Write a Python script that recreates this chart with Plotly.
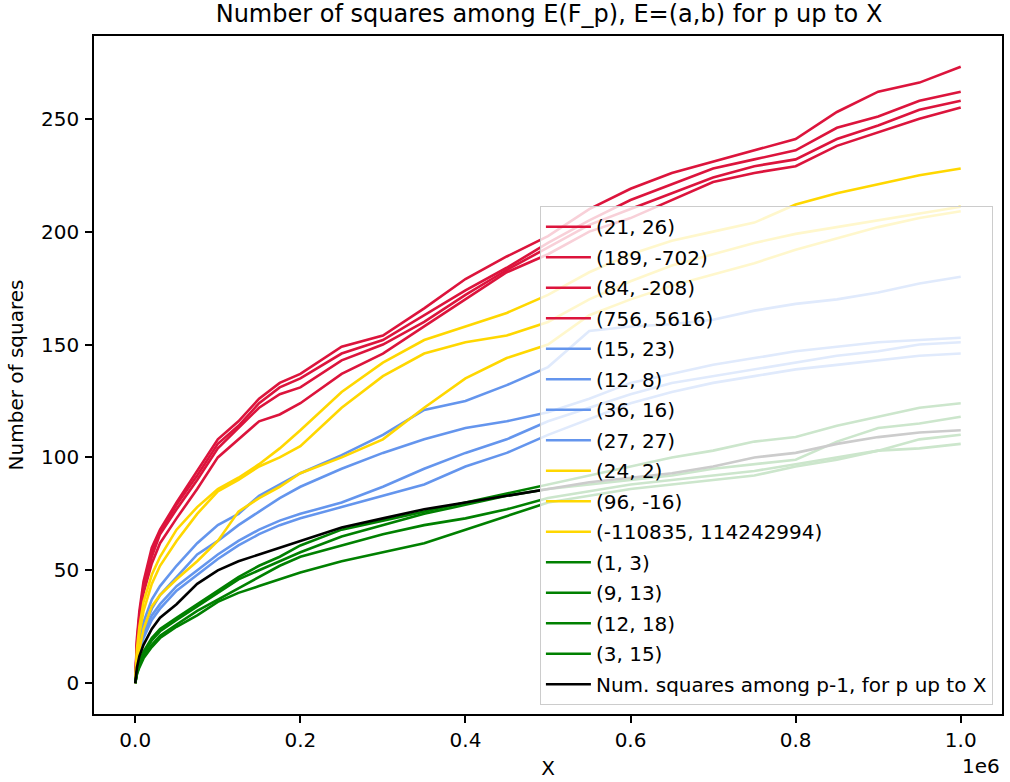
import plotly.graph_objects as go

# x positions (p up to X), in absolute units
X_POINTS = [0, 2000, 5000, 10000, 20000, 30000, 50000, 75000, 100000, 125000, 150000,
            175000, 200000, 250000, 300000, 350000, 400000, 450000, 500000, 550000,
            600000, 650000, 700000, 750000, 800000, 850000, 900000, 950000, 1000000]

LABELS = ["(21, 26)", "(189, -702)", "(84, -208)", "(756, 5616)",
          "(15, 23)", "(12, 8)", "(36, 16)", "(27, 27)",
          "(24, 2)", "(96, -16)", "(-110835, 114242994)",
          "(1, 3)", "(9, 13)", "(12, 18)", "(3, 15)",
          "Num. squares among p-1, for p up to X"]

# red curves
R1 = [0, 20, 32, 45, 60, 68, 80, 94, 108, 116, 126, 133, 137, 149, 154, 166, 179, 189, 198, 210, 219, 226, 231, 236, 241, 253, 262, 266, 273]
R2 = [0, 18, 30, 43, 58, 67, 79, 92, 106, 114, 124, 131, 135, 146, 152, 163, 174, 184, 195, 205, 214, 221, 228, 232, 236, 246, 251, 258, 262]
R3 = [0, 17, 29, 42, 56, 66, 77, 90, 104, 113, 122, 128, 131, 143, 150, 160, 172, 183, 193, 203, 210, 217, 224, 229, 232, 241, 247, 254, 258]
R4 = [0, 16, 27, 40, 53, 62, 73, 86, 100, 108, 116, 119, 124, 137, 146, 158, 170, 182, 190, 200, 206, 214, 222, 226, 229, 238, 244, 250, 255]
# blue curves
B1 = [0, 10, 18, 27, 37, 43, 52, 62, 70, 75, 83, 88, 93, 101, 110, 121, 125, 132, 140, 156, 158, 159, 161, 165, 168, 170, 173, 177, 180]
B2 = [0, 9, 16, 24, 33, 39, 47, 57, 63, 70, 76, 82, 87, 95, 102, 108, 113, 116, 120, 126, 133, 137, 141, 144, 147, 149, 151, 152, 153]
B3 = [0, 8, 14, 22, 30, 35, 43, 50, 57, 63, 68, 72, 75, 80, 87, 95, 102, 108, 116, 122, 128, 133, 136, 139, 142, 145, 147, 150, 151]
B4 = [0, 7, 13, 20, 28, 33, 41, 48, 55, 61, 66, 70, 73, 78, 83, 88, 96, 102, 110, 117, 124, 129, 133, 136, 139, 141, 143, 145, 146]
# yellow curves
Y1 = [0, 15, 25, 36, 48, 56, 68, 78, 86, 91, 97, 104, 112, 129, 142, 152, 158, 164, 172, 182, 190, 196, 200, 204, 212, 217, 221, 225, 228]
Y2 = [0, 12, 22, 32, 44, 52, 63, 75, 85, 90, 96, 100, 105, 122, 136, 146, 151, 154, 160, 170, 178, 185, 190, 195, 199, 202, 205, 208, 211]
Y3 = [0, 8, 15, 24, 34, 39, 46, 54, 63, 76, 82, 87, 93, 100, 108, 122, 135, 144, 150, 163, 170, 176, 181, 186, 192, 197, 202, 206, 209]
# green curves
G1 = [0, 5, 10, 14, 20, 24, 29, 35, 41, 47, 52, 56, 61, 68, 72, 76, 80, 84, 88, 92, 96, 100, 103, 107, 109, 114, 118, 122, 124]
G2 = [0, 5, 9, 13, 19, 23, 28, 34, 40, 46, 50, 54, 58, 65, 70, 75, 79, 83, 86, 88, 90, 92, 95, 97, 99, 107, 113, 115, 118]
G3 = [0, 4, 8, 12, 17, 21, 26, 32, 37, 42, 47, 52, 56, 61, 66, 70, 73, 77, 82, 85, 88, 90, 92, 94, 97, 100, 103, 108, 110]
G4 = [0, 4, 7, 11, 16, 20, 25, 30, 36, 40, 43, 46, 49, 54, 58, 62, 68, 74, 80, 83, 86, 88, 90, 92, 96, 99, 103, 104, 106]
# black reference curve
K = [0, 7, 12, 17, 24, 29, 35, 44, 50, 54, 57, 60, 63, 69, 73, 77, 80, 83, 86, 89, 91, 93, 96, 100, 102, 106, 109, 111, 112]

SERIES = [R1, R2, R3, R4, B1, B2, B3, B4, Y1, Y2, Y3, G1, G2, G3, G4, K]
COLORS = ["#DC143C"] * 4 + ["#6495ED"] * 4 + ["#FFD700"] * 3 + ["#008000"] * 4 + ["#000000"]

X_TICKS = [0, 200000, 400000, 600000, 800000, 1000000]
X_TICKTEXT = ["0.0", "0.2", "0.4", "0.6", "0.8", "1.0"]
Y_TICKS = [0, 50, 100, 150, 200, 250]

FONT = "DejaVu Sans"
TXT = 20
AXW = 1.6

fig = go.Figure()
for i, (lab, ys, col) in enumerate(zip(LABELS, SERIES, COLORS)):
    fig.add_trace(go.Scatter(x=X_POINTS, y=ys, mode="lines", name=lab,
                             legendgroup=f"g{i}",
                             line=dict(color=col, width=2.6)))

ymax = max(max(s) for s in SERIES)
fig.update_layout(
    width=1010, height=782,
    margin=dict(l=94, r=6, t=36, b=67),
    paper_bgcolor="white", plot_bgcolor="white",
    font=dict(family=FONT, size=TXT, color="#000000"),
    title=dict(text="Number of squares among E(F_p), E=(a,b) for p up to X",
               x=0.5436, xanchor="center", yref="container", y=1 - 14 / 782,
               yanchor="middle", font=dict(family=FONT, size=24, color="#000000")),
    xaxis=dict(range=[-50000, 1050000], tickvals=X_TICKS, ticktext=X_TICKTEXT,
               showgrid=False, zeroline=False, showline=True, linecolor="black",
               linewidth=AXW, mirror=True, ticks="outside", ticklen=7, tickwidth=AXW,
               tickcolor="black", tickfont=dict(size=TXT), ticklabelstandoff=0,
               title=dict(text="X", font=dict(size=TXT), standoff=10)),
    yaxis=dict(range=[-0.05 * ymax, 1.05 * ymax], tickvals=Y_TICKS,
               showgrid=False, zeroline=False, showline=True, linecolor="black",
               linewidth=AXW, mirror=True, ticks="outside", ticklen=7, tickwidth=AXW,
               tickcolor="black", tickfont=dict(size=TXT), ticklabelstandoff=2,
               title=dict(text="Number of squares", font=dict(size=TXT), standoff=12)),
    legend=dict(x=0.99, y=0.013, xanchor="right", yanchor="bottom",
                bgcolor="rgba(255,255,255,0.8)", bordercolor="#cccccc", borderwidth=1,
                font=dict(family=FONT, size=TXT), traceorder="grouped",
                tracegroupgap=1.5, itemwidth=45),
    showlegend=True,
)
fig.add_annotation(text="1e6", xref="paper", yref="paper", x=1.0, y=-0.0766,
                   xanchor="right", yanchor="middle", showarrow=False,
                   font=dict(family=FONT, size=TXT))

fig.write_html("out.html", config={"displayModeBar": False},
               post_script="document.body.style.margin='0';document.body.style.overflow='hidden';")
